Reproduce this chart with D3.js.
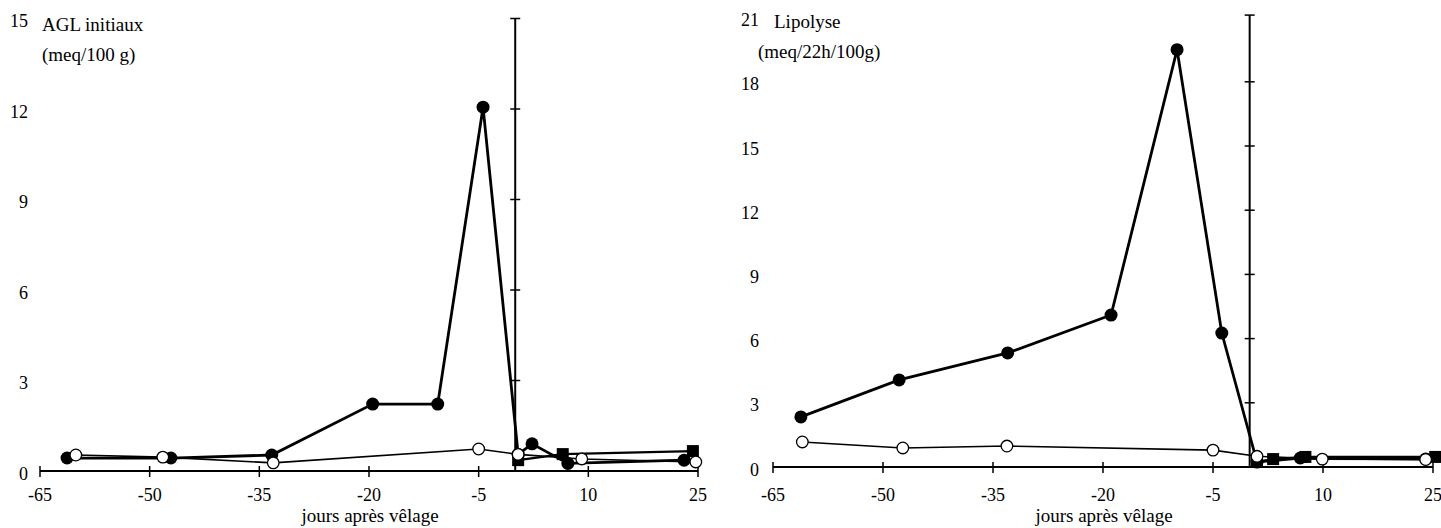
<!DOCTYPE html>
<html><head><meta charset="utf-8">
<script src="https://cdn.jsdelivr.net/npm/d3@7"></script>
<style>body{margin:0;background:#fff}svg{display:block}text{font-family:"Liberation Serif","Times New Roman",serif;fill:#000}</style>
</head><body>
<svg id="c" width="1441" height="528"></svg>
<script>
const xTicks = [-65, -50, -35, -20, -5, 10, 25];
const xTickLabels = ["-65", "-50", "-35", "-20", "-5", "10", "25"];
const xTitle = "jours après vêlage";

// Left panel: AGL initiaux
const leftTitle = ["AGL initiaux", "(meq/100 g)"];
const leftYTicks = [0, 3, 6, 9, 12, 15];
const leftFilledDays = [-61.3, -47.1, -33.3, -19.5, -10.6, -4.4, 0.4, 2.3, 7.2, 23.1];
const leftFilledVals = [0.43, 0.43, 0.53, 2.22, 2.22, 12.06, 0.55, 0.9, 0.25, 0.36];
const leftOpenDays = [-60.1, -48.2, -33.1, -5.0, 0.4, 9.1, 24.7];
const leftOpenVals = [0.53, 0.46, 0.27, 0.73, 0.55, 0.4, 0.3];
const leftSquareDays = [0.4, 6.5, 24.3];
const leftSquareVals = [0.36, 0.56, 0.66];

// Right panel: Lipolyse
const rightTitle = ["Lipolyse", "(meq/22h/100g)"];
const rightYTicks = [0, 3, 6, 9, 12, 15, 18, 21];
const rightFilledDays = [-61.2, -47.8, -33.0, -18.9, -9.9, -3.8, 1.0, 6.9, 24.0];
const rightFilledVals = [2.34, 4.07, 5.33, 7.1, 19.5, 6.26, 0.23, 0.42, 0.37];
const rightOpenDays = [-61.0, -47.3, -33.1, -5.0, 1.0, 9.9, 24.0];
const rightOpenVals = [1.17, 0.89, 0.98, 0.79, 0.5, 0.37, 0.35];
const rightSquareDays = [1.0, 3.2, 7.6, 25.3];
const rightSquareVals = [0.25, 0.37, 0.47, 0.47];

const svg = d3.select("#c");

function panel(cfg) {
  const g = svg.append("g");
  const x = d3.scaleLinear().domain([-65, 25]).range(cfg.xr);
  const y = d3.scaleLinear().domain([0, cfg.ymax]).range(cfg.yr);
  const x0 = x(0);
  g.append("line").attr("x1", x(-65)).attr("x2", x(25)).attr("y1", y(0)).attr("y2", y(0))
    .attr("stroke", "#000").attr("stroke-width", 2);
  xTicks.forEach((t, i) => {
    g.append("line").attr("x1", x(t)).attr("x2", x(t)).attr("y1", y(0) - 5).attr("y2", y(0) + 6)
      .attr("stroke", "#000").attr("stroke-width", 1.5);
    g.append("text").attr("x", x(t)).attr("y", 501).attr("text-anchor", "middle")
      .attr("font-size", 18).text(xTickLabels[i]);
  });
  const yTop = y(cfg.ymax) - cfg.topExtra;
  g.append("line").attr("x1", x0).attr("x2", x0).attr("y1", y(0)).attr("y2", yTop)
    .attr("stroke", "#000").attr("stroke-width", 2);
  g.append("line").attr("x1", x0 - 5).attr("x2", x0 + 5).attr("y1", yTop).attr("y2", yTop)
    .attr("stroke", "#000").attr("stroke-width", 1.5);
  cfg.yticks.forEach(t => {
    if (t > 0 && t < cfg.ymax) {
      g.append("line").attr("x1", x0 - 5).attr("x2", x0 + 5).attr("y1", y(t)).attr("y2", y(t))
        .attr("stroke", "#000").attr("stroke-width", 1.5);
    }
    g.append("text").attr("x", cfg.ylabX).attr("y", y(t) + 8.5).attr("text-anchor", "end")
      .attr("font-size", 18).text(t);
  });
  g.append("text").attr("x", cfg.t1x).attr("y", cfg.t1y).attr("font-size", 19).text(cfg.title[0]);
  g.append("text").attr("x", cfg.t2x).attr("y", cfg.t2y).attr("font-size", 19).text(cfg.title[1]);
  g.append("text").attr("x", cfg.xtx).attr("y", 522).attr("text-anchor", "middle").attr("font-size", 19).text(xTitle);

  const line = d3.line().x(d => x(d[0])).y(d => y(d[1]));
  const zip = (a, b) => a.map((v, i) => [v, b[i]]);
  const sq = zip(cfg.sd, cfg.sv), op = zip(cfg.od, cfg.ov), fi = zip(cfg.fd, cfg.fv);
  g.append("path").attr("d", line(sq)).attr("fill", "none").attr("stroke", "#000").attr("stroke-width", 2.2);
  g.append("path").attr("d", line(op)).attr("fill", "none").attr("stroke", "#000").attr("stroke-width", 1.6);
  g.append("path").attr("d", line(fi)).attr("fill", "none").attr("stroke", "#000").attr("stroke-width", 2.8);
  g.selectAll(".sq").data(sq).enter().append("rect")
    .attr("x", d => x(d[0]) - 6).attr("y", d => y(d[1]) - 6).attr("width", 12).attr("height", 12).attr("fill", "#000");
  g.selectAll(".fi").data(fi).enter().append("circle")
    .attr("cx", d => x(d[0])).attr("cy", d => y(d[1])).attr("r", 6.5).attr("fill", "#000");
  g.selectAll(".op").data(op).enter().append("circle")
    .attr("cx", d => x(d[0])).attr("cy", d => y(d[1])).attr("r", 5.8).attr("fill", "#fff")
    .attr("stroke", "#000").attr("stroke-width", 1.3);
}

panel({ xr: [40, 698], yr: [471, 18.5], ymax: 15, topExtra: 0, yticks: leftYTicks, ylabX: 28,
  title: leftTitle, t1x: 42, t1y: 31, t2x: 42, t2y: 61, xtx: 370,
  fd: leftFilledDays, fv: leftFilledVals, od: leftOpenDays, ov: leftOpenVals, sd: leftSquareDays, sv: leftSquareVals });
panel({ xr: [773, 1433], yr: [467, 17.6], ymax: 21, topExtra: 2.5, yticks: rightYTicks, ylabX: 759,
  title: rightTitle, t1x: 774, t1y: 28, t2x: 758, t2y: 58, xtx: 1104,
  fd: rightFilledDays, fv: rightFilledVals, od: rightOpenDays, ov: rightOpenVals, sd: rightSquareDays, sv: rightSquareVals });
</script>
</body></html>
